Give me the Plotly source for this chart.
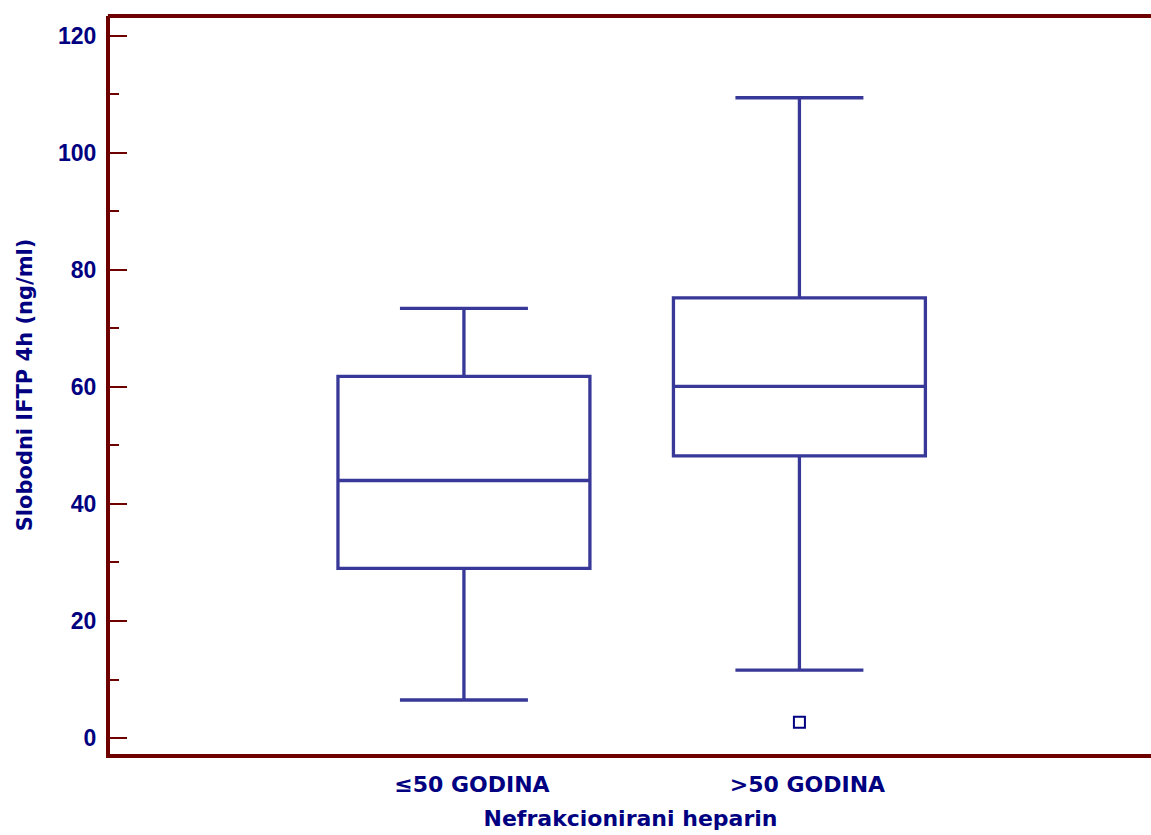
import plotly.graph_objects as go

categories = ["≤50 GODINA", ">50 GODINA"]
lower_whisker = [6.5, 11.6]
q1 = [29.0, 48.2]
median = [44.0, 60.1]
q3 = [61.8, 75.2]
upper_whisker = [73.4, 109.4]
outlier_cat = [">50 GODINA"]
outlier_val = [2.7]

maroon = "#6E0000"
navy = "#000080"
boxcol = "#383899"
num_font = "Liberation Sans, Arial, sans-serif"
txt_font = "DejaVu Sans, Liberation Sans, sans-serif"

fig = go.Figure()
fig.add_trace(go.Box(
    x=categories, q1=q1, median=median, q3=q3,
    lowerfence=lower_whisker, upperfence=upper_whisker,
    boxpoints=False, width=0.751, whiskerwidth=0.508,
    line=dict(color=boxcol, width=3.3), fillcolor="rgba(0,0,0,0)",
    showlegend=False, hoverinfo="skip",
))
fig.add_trace(go.Scatter(
    x=outlier_cat, y=outlier_val, mode="markers",
    marker=dict(symbol="square-open", size=11, color=navy, line=dict(width=2, color=navy)),
    showlegend=False,
))

fig.update_layout(
    width=1151, height=835,
    margin=dict(l=110, r=0, t=16, b=81),
    plot_bgcolor="white", paper_bgcolor="white",
    font=dict(family=num_font, color=navy, weight="bold"),
    shapes=[dict(type="line", xref="paper", yref="paper", x0=-0.002, x1=1, y0=1, y1=1,
                 line=dict(color=maroon, width=4))],
)
fig.update_xaxes(
    type="category", range=[-1.055, 2.048],
    showline=True, linecolor=maroon, linewidth=4,
    ticks="", showgrid=False, zeroline=False,
    tickfont=dict(size=22, family=txt_font, color=navy, weight="bold"),
    ticklabelstandoff=8, ticklabelshift=8,
    title=dict(text="Nefrakcionirani heparin", standoff=15,
               font=dict(size=22, family=txt_font, color=navy, weight="bold")),
)
fig.update_yaxes(
    range=[-2.73, 123.37],
    showline=True, linecolor=maroon, linewidth=4,
    ticks="inside", ticklen=17, tickwidth=2, tickcolor=maroon,
    tickvals=[0, 20, 40, 60, 80, 100, 120],
    minor=dict(ticks="inside", ticklen=9, tickwidth=2, tickcolor=maroon,
               tickvals=[10, 30, 50, 70, 90, 110]),
    showgrid=False, zeroline=False,
    tickfont=dict(size=23, family=num_font, color=navy, weight="bold"),
    ticklabelstandoff=5,
    title=dict(text="Slobodni IFTP 4h (ng/ml)", standoff=21,
               font=dict(size=21, family=txt_font, color=navy, weight="bold")),
)

fig.write_html("out.html", config={"displayModeBar": False},
               post_script="document.body.style.margin='0';document.body.style.overflow='hidden';")
